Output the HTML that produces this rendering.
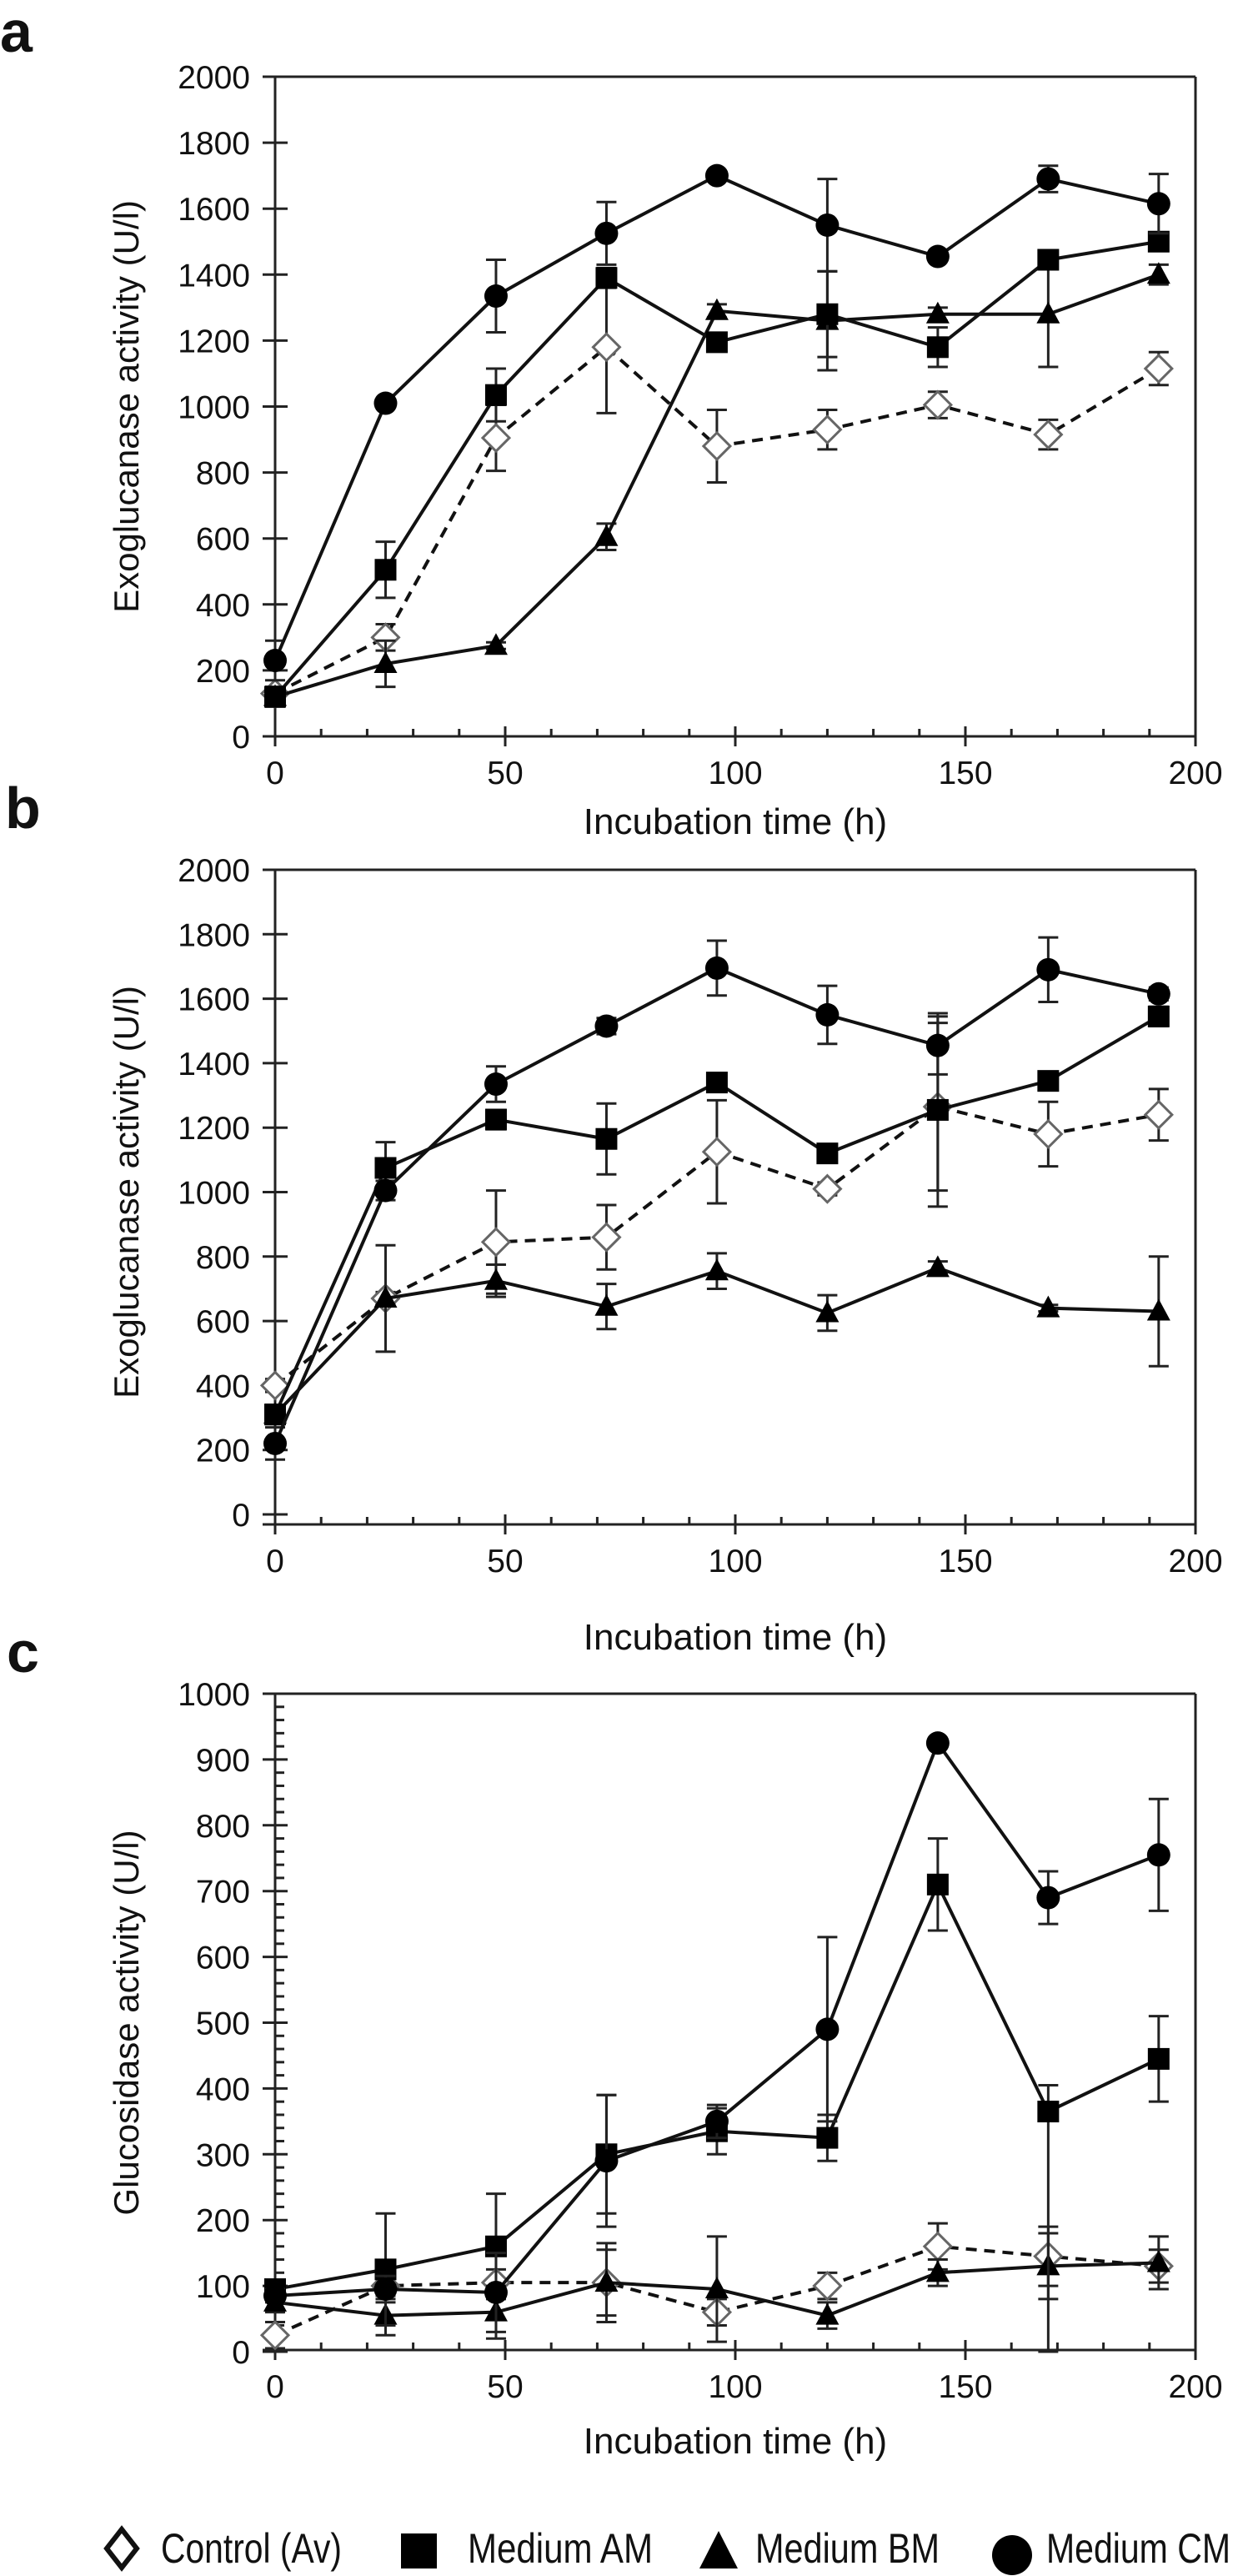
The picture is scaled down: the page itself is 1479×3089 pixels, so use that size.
<!DOCTYPE html>
<html><head><meta charset="utf-8"><style>
html,body{margin:0;padding:0;background:#fff}
svg{display:block}
text{font-family:"Liberation Sans",Arial,sans-serif;fill:#111}
</style></head><body>
<svg id="fig" width="1479" height="3089" viewBox="0 0 1479 3089" xmlns="http://www.w3.org/2000/svg">
<text x="0" y="62" font-size="70" font-weight="bold">a</text>
<text x="6" y="993" font-size="70" font-weight="bold">b</text>
<text x="8" y="2005" font-size="70" font-weight="bold">c</text>
<g id="legend">
  <g>
    <polygon points="146,3033 164,3056 146,3079 128,3056" fill="#fff" stroke="#111" stroke-width="6"/>
    <text x="193" y="3073" font-size="50" textLength="217" lengthAdjust="spacingAndGlyphs">Control (Av)</text>
  </g>
  <g>
    <rect x="481" y="3038" width="43" height="42" fill="#000"/>
    <text x="561" y="3073" font-size="50" textLength="222" lengthAdjust="spacingAndGlyphs">Medium AM</text>
  </g>
  <g>
    <polygon points="862,3035 885,3080 839,3080" fill="#000"/>
    <text x="906" y="3073" font-size="50" textLength="221" lengthAdjust="spacingAndGlyphs">Medium BM</text>
  </g>
  <g>
    <ellipse cx="1214" cy="3064" rx="24" ry="24" fill="#000"/>
    <text x="1255" y="3073" font-size="50" textLength="221" lengthAdjust="spacingAndGlyphs">Medium CM</text>
  </g>
</g>
</svg>
<script>
// ---- shared data ----
const times = [0, 24, 48, 72, 96, 120, 144, 168, 192];
const xTickLabels = [0, 50, 100, 150, 200];
const yTicksExo = [0, 200, 400, 600, 800, 1000, 1200, 1400, 1600, 1800, 2000];
const yTicksGlu = [0, 100, 200, 300, 400, 500, 600, 700, 800, 900, 1000];
// panel a
const aControl = [130, 300, 905, 1180, 880, 930, 1005, 915, 1115];
const aControlErr = [20, 40, 100, 200, 110, 60, 40, 45, 50];
const aAM = [120, 505, 1035, 1390, 1195, 1280, 1180, 1445, 1500];
const aAMErr = [30, 85, 80, 30, 20, 130, 60, 20, 20];
const aBM = [120, 220, 275, 605, 1290, 1260, 1280, 1280, 1400];
const aBMErr = [20, 70, 10, 40, 20, 150, 20, 160, 30];
const aCM = [230, 1010, 1335, 1525, 1700, 1550, 1455, 1690, 1615];
const aCMErr = [60, 10, 110, 95, 10, 140, 10, 40, 90];
// panel b
const bControl = [400, 670, 845, 860, 1125, 1010, 1265, 1180, 1240];
const bControlErr = [20, 20, 160, 100, 160, 20, 260, 100, 80];
const bAM = [310, 1075, 1225, 1165, 1340, 1120, 1255, 1345, 1545];
const bAMErr = [30, 80, 30, 110, 10, 10, 300, 10, 30];
const bBM = [310, 670, 725, 645, 755, 625, 765, 640, 630];
const bBMErr = [20, 165, 50, 70, 55, 55, 20, 10, 170];
const bCM = [220, 1005, 1335, 1515, 1695, 1550, 1455, 1690, 1615];
const bCMErr = [50, 30, 55, 25, 85, 90, 90, 100, 20];
// panel c
const cControl = [25, 100, 105, 105, 60, 100, 160, 145, 130];
const cControlErr = [20, 20, 20, 50, 20, 20, 35, 45, 25];
const cAM = [95, 125, 160, 300, 335, 325, 710, 365, 445];
const cAMErr = [10, 85, 80, 90, 35, 35, 70, 40, 65];
const cAMErrLow = [10, 85, 80, 90, 35, 35, 70, 365, 65];
const cBM = [75, 55, 60, 105, 95, 55, 120, 130, 135];
const cBMErr = [15, 30, 40, 60, 80, 20, 20, 50, 40];
const cCM = [85, 95, 90, 290, 350, 490, 925, 690, 755];
const cCMErr = [10, 20, 60, 100, 25, 140, 5, 40, 85];

const NS = "http://www.w3.org/2000/svg";
const svg = document.getElementById('fig');
function mk(tag, attrs, parent) {
  const e = document.createElementNS(NS, tag);
  for (const k in attrs) e.setAttribute(k, attrs[k]);
  (parent || svg).appendChild(e);
  return e;
}

function panel(cfg) {
  const g = mk('g', {});
  
  
  const X = t => cfg.x0 + (t - 0) * (cfg.x1 - cfg.x0) / 200;
  const Y = v => cfg.y0 - v * (cfg.y0 - cfg.yTop) / cfg.yMax;
  const ax = mk('g', {stroke: '#222', 'stroke-width': 3, fill: 'none'}, g);
  
  
  mk('line', {x1: cfg.x0, y1: Y(cfg.yMax), x2: cfg.x0, y2: cfg.axisY + 12}, ax);
  mk('line', {x1: cfg.x0 - 15, y1: Y(cfg.yMax), x2: cfg.x1, y2: Y(cfg.yMax)}, ax);
  mk('line', {x1: cfg.x1, y1: Y(cfg.yMax), x2: cfg.x1, y2: cfg.axisY + 12}, ax);
  mk('line', {x1: cfg.x0 - 15, y1: cfg.axisY, x2: cfg.x1, y2: cfg.axisY}, ax);
  for (let t = 0; t <= 200; t += 10) {
    const major = t % 50 === 0;
    mk('line', {x1: X(t), y1: cfg.axisY - (major ? 12 : 9), x2: X(t), y2: cfg.axisY + (major ? 12 : 0)}, ax);
  }
  xTickLabels.forEach(t => {
    const tx = mk('text', {x: X(t), y: cfg.axisY + 57, 'font-size': 39, 'text-anchor': 'middle'}, g);
    
    
    tx.textContent = t;
  });
  cfg.yTicks.forEach(v => {
    mk('line', {x1: cfg.x0 - 15, y1: Y(v), x2: cfg.x0 + 15, y2: Y(v)}, ax);
    const tx = mk('text', {x: cfg.x0 - 30, y: Y(v) + 14, 'font-size': 39, 'text-anchor': 'end'}, g);
    
    
    tx.textContent = v;
  });
  if (cfg.minorY) {
    for (let v = 0; v <= cfg.yMax; v += cfg.minorY) {
      if (v % cfg.yTicks[1] !== 0) mk('line', {x1: cfg.x0, y1: Y(v), x2: cfg.x0 + 11, y2: Y(v)}, ax);
    }
  }
  const xt = mk('text', {x: (cfg.x0 + cfg.x1) / 2, y: cfg.xTitleY, 'font-size': 44, 'text-anchor': 'middle'}, g);
  
  
  xt.textContent = 'Incubation time (h)';
  const yc = (Y(cfg.yMax) + cfg.y0) / 2;
  const yt = mk('text', {x: 0, y: 0, 'font-size': 42, 'text-anchor': 'middle', transform: `translate(166,${yc}) rotate(-90)`}, g);
  
  
  yt.textContent = cfg.yTitle;

  cfg.series.forEach(s => {
    const sg = mk('g', {}, g);
    
    
    s.vals.forEach((v, i) => {
      const lo = v - (s.errLow ? s.errLow[i] : s.err[i]);
      const hi = v + s.err[i];
      const x = X(times[i]);
      const eb = mk('g', {stroke: '#222', 'stroke-width': 3}, sg);
      
      
      mk('line', {x1: x, y1: Y(lo), x2: x, y2: Y(hi)}, eb);
      mk('line', {x1: x - 12, y1: Y(lo), x2: x + 12, y2: Y(lo)}, eb);
      mk('line', {x1: x - 12, y1: Y(hi), x2: x + 12, y2: Y(hi)}, eb);
    });
    const pts = s.vals.map((v, i) => X(times[i]) + ',' + Y(v)).join(' ');
    const pl = mk('polyline', {points: pts, fill: 'none', stroke: '#111', 'stroke-width': 4, 'stroke-dasharray': s.dash ? '13,9' : 'none'}, sg);
    
    
    s.vals.forEach((v, i) => {
      const x = X(times[i]), y = Y(v);
      let m;
      if (s.marker === 'circle') m = mk('circle', {cx: x, cy: y, r: 14, fill: '#000'}, sg);
      else if (s.marker === 'square') m = mk('rect', {x: x - 13, y: y - 13, width: 26, height: 26, fill: '#000'}, sg);
      else if (s.marker === 'triangle') m = mk('polygon', {points: `${x},${y - 15} ${x + 14},${y + 11} ${x - 14},${y + 11}`, fill: '#000'}, sg);
      else m = mk('polygon', {points: `${x},${y - 16} ${x + 16},${y} ${x},${y + 16} ${x - 16},${y}`, fill: '#fff', stroke: '#666', 'stroke-width': 3}, sg);
      
      
    });
  });
}

panel({name: 'panel-a-chart', x0: 330, x1: 1434, y0: 883, yTop: 92, yMax: 2000, axisY: 883, yTicks: yTicksExo,
  xTitleY: 1000, yTitle: 'Exoglucanase activity (U/l)',
  series: [
    {name: 'series-control', vals: aControl, err: aControlErr, marker: 'diamond', dash: true},
    {name: 'series-medium-bm', vals: aBM, err: aBMErr, marker: 'triangle'},
    {name: 'series-medium-am', vals: aAM, err: aAMErr, marker: 'square'},
    {name: 'series-medium-cm', vals: aCM, err: aCMErr, marker: 'circle'}]});
panel({name: 'panel-b-chart', x0: 330, x1: 1434, y0: 1816, yTop: 1043, yMax: 2000, axisY: 1828, yTicks: yTicksExo,
  xTitleY: 1978, yTitle: 'Exoglucanase activity (U/l)',
  series: [
    {name: 'series-control', vals: bControl, err: bControlErr, marker: 'diamond', dash: true},
    {name: 'series-medium-bm', vals: bBM, err: bBMErr, marker: 'triangle'},
    {name: 'series-medium-am', vals: bAM, err: bAMErr, marker: 'square'},
    {name: 'series-medium-cm', vals: bCM, err: bCMErr, marker: 'circle'}]});
panel({name: 'panel-c-chart', x0: 330, x1: 1434, y0: 2820, yTop: 2031, yMax: 1000, axisY: 2818, yTicks: yTicksGlu, minorY: 20,
  xTitleY: 2942, yTitle: 'Glucosidase activity (U/l)',
  series: [
    {name: 'series-control', vals: cControl, err: cControlErr, marker: 'diamond', dash: true},
    {name: 'series-medium-bm', vals: cBM, err: cBMErr, marker: 'triangle'},
    {name: 'series-medium-am', vals: cAM, err: cAMErr, errLow: cAMErrLow, marker: 'square'},
    {name: 'series-medium-cm', vals: cCM, err: cCMErr, marker: 'circle'}]});
</script>
</body></html>
